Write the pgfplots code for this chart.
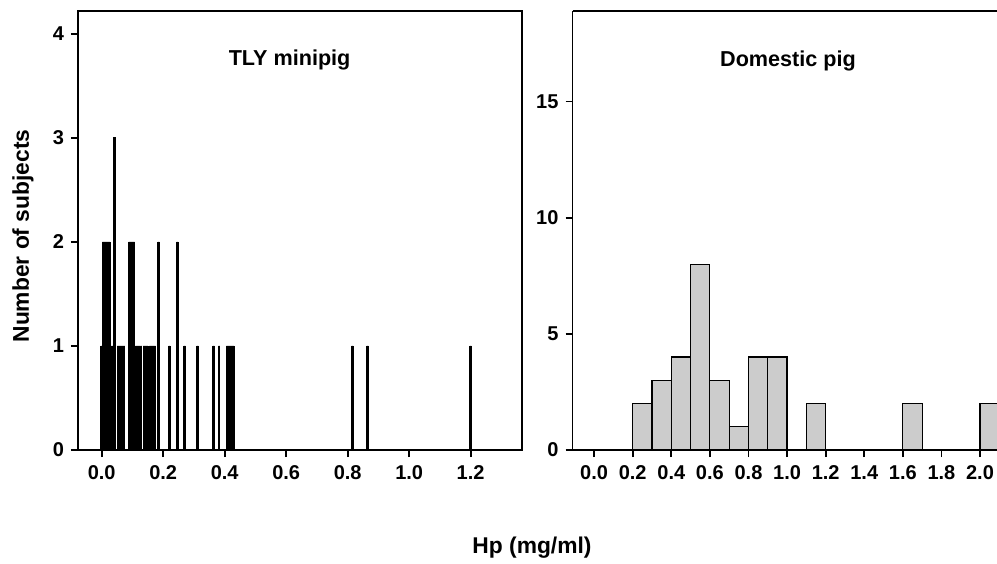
\documentclass[border=0pt]{standalone}
\usepackage{pgfplots}
\pgfplotsset{compat=1.18}
\usepackage{fontspec}
\setmainfont{Liberation Sans}

% 1 px of the reference = 0.5pt
\pgfplotsset{
  pigaxis/.style={
    scale only axis, height=219.5pt,
    ymin=0, tick align=outside, tick pos=left,
    major tick length=3.5pt,
    axis line style={line width=0.9pt},
    every tick/.style={line width=0.9pt, black},
    tick label style={font=\bfseries\fontsize{10}{11}\selectfont},
    /pgf/number format/assume math mode=true,
    xticklabel style={text height=7.5pt, text depth=0pt,
      /pgf/number format/.cd, fixed, fixed zerofill, precision=1},
    yticklabel style={/pgf/number format/.cd, fixed, precision=0},
  }
}

\begin{document}
\begin{tikzpicture}[x=1pt,y=1pt]
\useasboundingbox (0,0) rectangle (498.5,-281.5);

% TLY minipig
\begin{axis}[pigaxis, at={(39pt,-225pt)}, anchor=south west, width=222pt,
  xmin=-0.077, xmax=1.367, ymax=4.22,
  xtick={0,0.2,0.4,0.6,0.8,1.0,1.2}, ytick={0,1,2,3,4},
  ybar, bar width=0.005, bar shift=0pt]
\addplot[fill=black, draw=black, line width=0.45pt] coordinates {
  (0.000,1) (0.005,2) (0.010,2) (0.015,2) (0.020,2) (0.025,2)
  (0.034,1) (0.042,3)
  (0.053,1) (0.058,1) (0.063,1) (0.068,1) (0.073,1)
  (0.090,2) (0.095,2) (0.100,2) (0.105,2)
  (0.112,1) (0.117,1) (0.122,1) (0.128,1)
  (0.137,1) (0.142,1) (0.148,1)
  (0.158,1) (0.163,1) (0.168,1) (0.173,1)
  (0.185,2) (0.220,1) (0.246,2) (0.270,1) (0.312,1)
  (0.364,1) (0.382,1)
  (0.408,1) (0.413,1) (0.418,1) (0.423,1) (0.428,1)
  (0.815,1) (0.865,1) (1.200,1)
};
\end{axis}

% Domestic pig
\begin{axis}[pigaxis, at={(286.25pt,-225pt)}, anchor=south west, width=212.25pt,
  axis x line*=bottom, axis y line*=left,
  xmin=-0.112, xmax=2.088, ymax=18.9,
  xtick={0,0.2,0.4,0.6,0.8,1.0,1.2,1.4,1.6,1.8,2.0}, ytick={0,5,10,15},
  ybar, bar width=0.1, bar shift=0pt]
\addplot[fill=black!20, draw=black, line width=0.6pt] coordinates {
  (0.25,2) (0.35,3) (0.45,4) (0.55,8) (0.65,3) (0.75,1)
  (0.85,4) (0.95,4) (1.15,2) (1.65,2) (2.05,2)
};
\end{axis}
\draw[line width=0.9pt] (286.25,-5.5) -- (498.5,-5.5);

\node[font=\bfseries\fontsize{10.8}{12}\selectfont] at (144.8,-30) {TLY minipig};
\node[font=\bfseries\fontsize{10.8}{12}\selectfont] at (394,-30.5) {Domestic pig};
\node[rotate=90, font=\bfseries\fontsize{11.4}{13}\selectfont] at (11.5,-118) {Number of subjects};
\node[font=\bfseries\fontsize{11.4}{13}\selectfont] at (266,-274) {Hp (mg/ml)};
\end{tikzpicture}
\end{document}
